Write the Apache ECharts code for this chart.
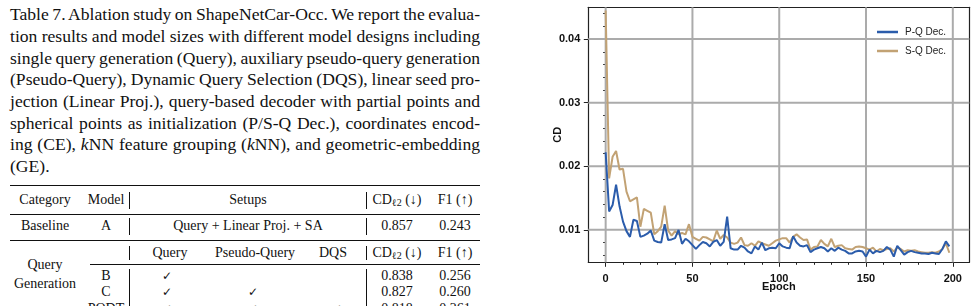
<!DOCTYPE html>
<html><head><meta charset="utf-8">
<script src="https://cdn.jsdelivr.net/npm/echarts@6/dist/echarts.min.js"></script>
<style>
html,body{margin:0;padding:0;background:#fff;}
body{width:977px;height:306px;overflow:hidden;position:relative;font-family:"Liberation Serif","Times New Roman",serif;color:#111;}
.cap{position:absolute;left:10px;font-size:17.6px;line-height:21.67px;height:21.67px;white-space:nowrap;}
.t{position:absolute;font-size:14px;line-height:16px;white-space:nowrap;transform:translate(-50%,-50%);}
.t sub{font-size:10px;vertical-align:-2px;line-height:0;}
.ck{font-family:"DejaVu Sans",sans-serif;font-size:12px;}
.rule{position:absolute;background:#111;}
#chart{position:absolute;left:530px;top:0;width:447px;height:306px;}
</style></head><body>
<div id="caption"></div>
<div id="table"></div>
<div id="chart"></div>
<script>
// ---- caption lines ----
const captionLines = [
  "Table 7. Ablation study on ShapeNetCar-Occ. We report the evalua-",
  "tion results and model sizes with different model designs including",
  "single query generation (Query), auxiliary pseudo-query generation",
  "(Pseudo-Query), Dynamic Query Selection (DQS), linear seed pro-",
  "jection (Linear Proj.), query-based decoder with partial points and",
  "spherical points as initialization (P/S-Q Dec.), coordinates encod-",
  "ing (CE), <i>k</i>NN feature grouping (<i>k</i>NN), and geometric-embedding",
  "(GE)."
];
// ---- table cells: [html, centerX, centerY] ----
const tableCells = [
  ["Category",45,200],["Model",106,200],["Setups",248,200],["CD<sub>ℓ2</sub> (↓)",397,200],["F1 (↑)",455,200],
  ["Baseline",45,226],["A",106,226],["Query + Linear Proj. + SA",248,226],["0.857",397,226],["0.243",455,226],
  ["Query",170,253],["Pseudo-Query",255,253],["DQS",333,253],["CD<sub>ℓ2</sub> (↓)",397,253],["F1 (↑)",455,253],
  ["Query",45,265],["Generation",45,284],
  ["B",106,276],["<span class='ck'>✓</span>",167,276],["0.838",397,276],["0.256",455,276],
  ["C",106,292],["<span class='ck'>✓</span>",167,292],["<span class='ck'>✓</span>",253,292],["0.827",397,292],["0.260",455,292],
  ["PQDT",106,309],["<span class='ck'>✓</span>",167,309],["<span class='ck'>✓</span>",253,309],["<span class='ck'>✓</span>",337,309],["0.818",397,309],["0.261",455,309]
];
// ---- chart data ----
const epochs = [0,2,4,6,8,10,12,14,16,18,20,22,24,26,28,30,32,34,36,38,40,42,44,46,48,50,52,54,56,58,60,62,64,66,68,70,72,74,76,78,80,82,84,86,88,90,92,94,96,98,100,102,104,106,108,110,112,114,116,118,120,122,124,126,128,130,132,134,136,138,140,142,144,146,148,150,152,154,156,158,160,162,164,166,168,170,172,174,176,178,180,182,184,186,188,190,192,194,196,198];
const pqDec = [0.0222,0.0129,0.0139,0.0171,0.0137,0.0113,0.0098,0.0089,0.0116,0.0114,
  0.0089,0.0091,0.0094,0.0099,0.0083,0.0081,0.0080,0.0109,0.0084,0.0085,
  0.0087,0.0100,0.0078,0.0086,0.0082,0.0076,0.0070,0.0076,0.0081,0.0079,
  0.0074,0.0081,0.0084,0.0075,0.0081,0.0121,0.0071,0.0069,0.0069,0.0075,
  0.0072,0.0066,0.0063,0.0074,0.0069,0.0080,0.0068,0.0071,0.0072,0.0071,
  0.0079,0.0074,0.0072,0.0071,0.0090,0.0080,0.0075,0.0074,0.0076,0.0065,
  0.0069,0.0071,0.0073,0.0071,0.0066,0.0071,0.0067,0.0072,0.0069,0.0067,
  0.0063,0.0063,0.0066,0.0067,0.0066,0.0058,0.0069,0.0063,0.0067,0.0065,
  0.0067,0.0073,0.0069,0.0058,0.0075,0.0068,0.0061,0.0065,0.0067,0.0065,
  0.0064,0.0063,0.0063,0.0062,0.0064,0.0063,0.0062,0.0070,0.0082,0.0074];
const sqDec = [0.0445,0.0181,0.0215,0.0224,0.0195,0.0196,0.0160,0.0145,0.0148,0.0151,
  0.0105,0.0133,0.0130,0.0127,0.0093,0.0098,0.0105,0.0138,0.0099,0.0091,
  0.0098,0.0093,0.0095,0.0093,0.0109,0.0089,0.0086,0.0083,0.0089,0.0088,
  0.0085,0.0082,0.0099,0.0086,0.0092,0.0088,0.0080,0.0078,0.0080,0.0088,
  0.0076,0.0075,0.0079,0.0075,0.0082,0.0079,0.0077,0.0075,0.0079,0.0083,
  0.0085,0.0087,0.0087,0.0080,0.0089,0.0093,0.0088,0.0084,0.0085,0.0069,
  0.0073,0.0074,0.0084,0.0078,0.0074,0.0086,0.0073,0.0075,0.0076,0.0071,
  0.0070,0.0069,0.0073,0.0074,0.0073,0.0071,0.0069,0.0072,0.0066,0.0070,
  0.0068,0.0070,0.0071,0.0066,0.0072,0.0070,0.0066,0.0068,0.0067,0.0068,
  0.0066,0.0065,0.0064,0.0064,0.0065,0.0064,0.0066,0.0070,0.0079,0.0064];
const seriesNames = ["P-Q Dec.","S-Q Dec."];
const xMajorTicks = [0,50,100,150,200];
const xMinorTicks = [10,20,30,40,60,70,80,90,110,120,130,140,160,170,180,190];
const yMajorTicks = [0.01,0.02,0.03,0.04];
const yMinorTicks = [0.006,0.008,0.012,0.014,0.016,0.018,0.022,0.024,0.026,0.028,0.032,0.034,0.036,0.038,0.042,0.044];

// ---- build caption ----
const cap = document.getElementById('caption');
captionLines.forEach((ln,i)=>{
  const d=document.createElement('div');
  d.className='cap'; d.innerHTML=ln;
  d.style.top=(15+i*21.67-10.83)+'px';
  cap.appendChild(d);
  if(i<captionLines.length-1){
    const w=d.getBoundingClientRect().width;
    const spaces=(d.textContent.match(/ /g)||[]).length;
    if(spaces>0) d.style.wordSpacing=((470-w)/spaces)+'px';
  }
});
// ---- build table ----
const tb=document.getElementById('table');
function rule(x,y,w,h){const r=document.createElement('div');r.className='rule';r.style.left=x+'px';r.style.top=y+'px';r.style.width=w+'px';r.style.height=h+'px';tb.appendChild(r);}
rule(10,184.5,470,1.8);
rule(10,213.5,470,0.9);
rule(10,239.5,470,0.9);
rule(90,263.5,390,0.9);
[[192,209],[218,235],[246,260],[269,306]].forEach(s=>{rule(128.5,s[0],0.9,s[1]-s[0]);rule(365.5,s[0],0.9,s[1]-s[0]);});
tableCells.forEach(c=>{const s=document.createElement('div');s.className='t';s.innerHTML=c[0];s.style.left=c[1]+'px';s.style.top=c[2]+'px';tb.appendChild(s);});

// ---- chart ----
const chart = echarts.init(document.getElementById('chart'), null, {renderer:'canvas'});
const axisFont = {fontFamily:'Liberation Sans, Arial, sans-serif', fontWeight:'bold', fontSize:11, color:'#111'};
const tickLine = {color:'#222', width:1};
const X_MIN=-10, X_MAX=209.5, Y_MIN=0.0049, Y_MAX=0.0450;
const GRID_COLOR = '#ababab';
function frameAxis(pos, min, max){
  return {type:'value', min:min, max:max, position:pos, offset:0,
    axisLine:{show:true, onZero:false, lineStyle:{color:'#222', width:1.2}},
    axisTick:{show:false}, axisLabel:{show:false}, splitLine:{show:false}};
}
// grid lines at the major ticks, drawn through the axes' own scales
function gridSeries(points){
  return {type:'line', xAxisIndex:0, yAxisIndex:0, data:points, showSymbol:false, z:1, clip:false, silent:true,
    lineStyle:{color:GRID_COLOR, width:2}, itemStyle:{color:GRID_COLOR}};
}
const gridSeriesList = xMajorTicks.map(v=>gridSeries([[v,Y_MIN],[v,Y_MAX]]))
  .concat(yMajorTicks.map(v=>gridSeries([[X_MIN,v],[X_MAX,v]])));

chart.setOption({
  animation:false,
  backgroundColor:'#fff',
  grid:{left:58.3, right:7.7, top:7.3, bottom:43.7, show:false},
  legend:{
    data:seriesNames, orient:'vertical', left:342, top:21, icon:'rect', itemWidth:21, itemHeight:2.5, itemGap:7,
    textStyle:{fontFamily:'Liberation Sans, Arial, sans-serif', fontSize:10, color:'#222', lineHeight:12, padding:[0,0,0,2]}
  },
  xAxis:[{
    type:'value', min:X_MIN, max:X_MAX, position:'bottom',
    name:'Epoch', nameLocation:'middle', nameGap:19, nameMoveOverlap:false, nameTextStyle:axisFont,
    axisLine:{show:true, onZero:false, lineStyle:{color:'#222', width:1.2}},
    axisTick:{show:true, inside:false, length:4.5, lineStyle:tickLine, customValues:xMajorTicks},
    axisLabel:{...axisFont, margin:11, customValues:xMajorTicks, formatter:v=>String(v)},
    splitLine:{show:false}
  },{
    type:'value', min:X_MIN, max:X_MAX, position:'bottom', offset:0,
    axisLine:{show:false}, axisLabel:{show:false}, splitLine:{show:false},
    axisTick:{show:true, inside:false, length:2.5, lineStyle:tickLine, customValues:xMinorTicks}
  }, frameAxis('top', X_MIN, X_MAX)],
  yAxis:[{
    type:'value', min:Y_MIN, max:Y_MAX, position:'left',
    name:'CD', nameLocation:'middle', nameGap:25, nameMoveOverlap:false, nameTextStyle:axisFont,
    axisLine:{show:true, onZero:false, lineStyle:{color:'#222', width:1.2}},
    axisTick:{show:true, inside:false, length:4.5, lineStyle:tickLine, customValues:yMajorTicks},
    axisLabel:{...axisFont, margin:8, customValues:yMajorTicks, formatter:v=>v.toFixed(2)},
    splitLine:{show:false}
  },{
    type:'value', min:Y_MIN, max:Y_MAX, position:'left', offset:0,
    axisLine:{show:false}, axisLabel:{show:false}, splitLine:{show:false},
    axisTick:{show:true, inside:false, length:2.5, lineStyle:tickLine, customValues:yMinorTicks}
  }, frameAxis('right', Y_MIN, Y_MAX)],
  series:gridSeriesList.concat([
    {name:seriesNames[0], type:'line', xAxisIndex:0, yAxisIndex:0, showSymbol:false, z:4,
     data:epochs.map((e,i)=>[e,pqDec[i]]), lineStyle:{color:'#2b5cab', width:2}, itemStyle:{color:'#2b5cab'}},
    {name:seriesNames[1], type:'line', xAxisIndex:0, yAxisIndex:0, showSymbol:false, z:3,
     data:epochs.map((e,i)=>[e,sqDec[i]]), lineStyle:{color:'#c2a274', width:2}, itemStyle:{color:'#c2a274'}}
  ])
});
</script>
</body></html>
